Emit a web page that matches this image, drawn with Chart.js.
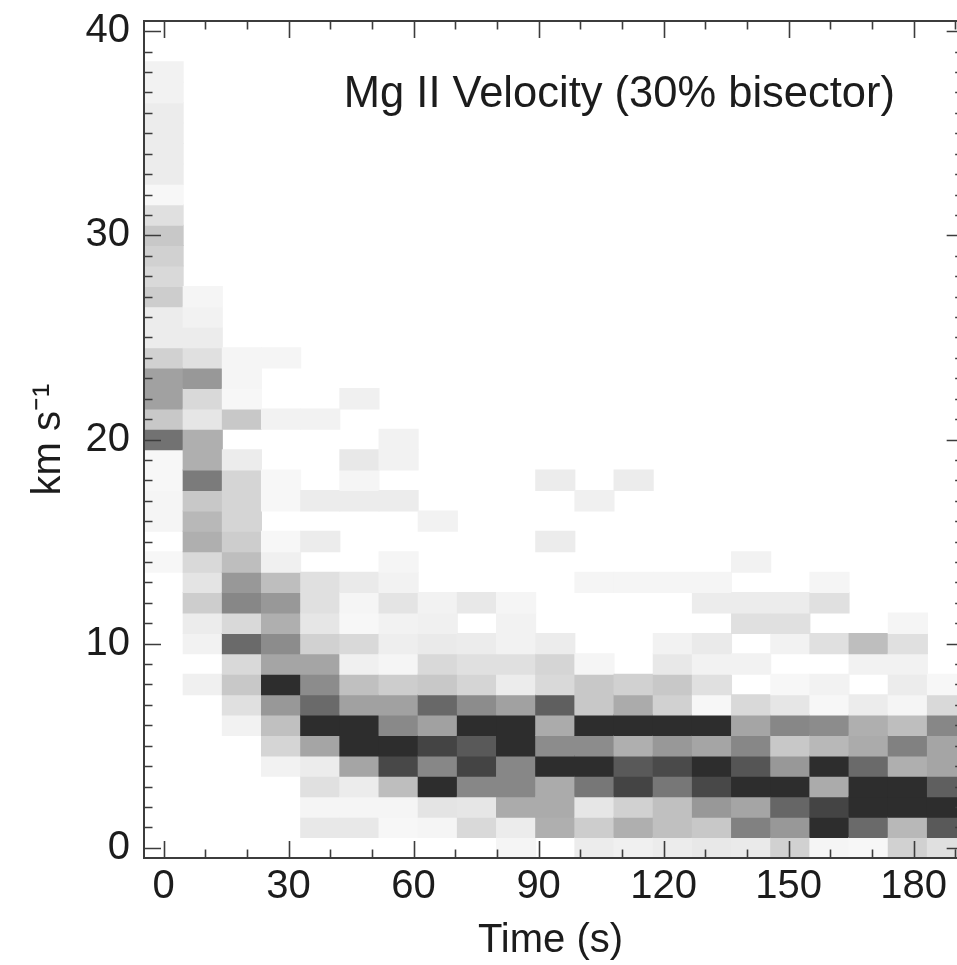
<!DOCTYPE html>
<html><head><meta charset="utf-8">
<script src="https://cdn.jsdelivr.net/npm/chart.js@4.4.1/dist/chart.umd.min.js"></script>
<style>html,body{margin:0;padding:0;background:#fff;overflow:hidden}#wrap{width:957px;height:965px}</style>
</head><body><div id="wrap"><canvas id="c" width="957" height="965"></canvas></div>
<script>
// Time bins (s) – centres of the 9.4 s cadence bins
const timeBins = [0, 9.4, 18.8, 28.2, 37.6, 47, 56.4, 65.8, 75.2, 84.6, 94, 103.4, 112.8, 122.2, 131.6, 141, 150.4, 159.8, 169.2, 178.6, 188];
// Velocity bins (km/s) – centres of 1 km/s bins
const velocityBins = [0,1,2,3,4,5,6,7,8,9,10,11,12,13,14,15,16,17,18,19,20,21,22,23,24,25,26,27,28,29,30,31,32,33,34,35,36,37,38,39,40];
const xTickLabels = [0, 30, 60, 90, 120, 150, 180];
const yTickLabels = [0, 10, 20, 30, 40];
const chartTitle = 'Mg II Velocity (30% bisector)';
const xTitle = 'Time (s)';
const yTitle = 'km s\u207B\u00B9';

// Relative occurrence (0-100) per time bin, listed for velocity 0..40
const density = [
 [0,0,0,0,0,0,0,0,0,0, 0,0,0,0,4,0,5,5,4,4, 67,26,45,45,22,9,9,24,18,22, 26,15,4,9,9,9,9,6,6,0, 0],
 [0,0,0,0,0,0,0,0,7,0, 6,9,24,13,18,38,34,26,63,38, 38,12,18,49,15,9,6,5,0,0, 0,0,0,0,0,0,0,0,0,0, 0],
 [0,0,0,0,0,0,6,15,26,18, 71,18,57,49,31,24,20,20,20,9, 0,26,4,5,5,0,0,0,0,0, 0,0,0,0,0,0,0,0,0,0, 0],
 [0,0,0,0,6,20,30,49,100,43, 55,38,49,31,7,4,0,4,4,0, 0,6,0,0,5,0,0,0,0,0, 0,0,0,0,0,0,0,0,0,0, 0],
 [0,11,5,15,9,43,100,71,55,43, 22,12,15,15,0,9,0,9,0,0, 0,6,0,0,0,0,0,0,0,0, 0,0,0,0,0,0,0,0,0,0, 0],
 [0,11,5,9,43,100,100,45,30,7, 18,4,5,10,0,0,0,9,5,11, 0,0,7,0,0,0,0,0,0,0, 0,0,0,0,0,0,0,0,0,0, 0],
 [0,4,5,31,87,100,56,45,24,5, 8,6,13,6,5,0,0,9,0,6, 6,0,0,0,0,0,0,0,0,0, 0,0,0,0,0,0,0,0,0,0, 0],
 [0,5,13,100,57,89,45,72,26,18, 10,7,6,0,0,0,6,0,0,0, 0,0,0,0,0,0,0,0,0,0, 0,0,0,0,0,0,0,0,0,0, 0],
 [0,18,12,57,89,79,100,55,20,15, 9,0,11,0,0,0,0,0,0,0, 0,0,0,0,0,0,0,0,0,0, 0,0,0,0,0,0,0,0,0,0, 0],
 [5,9,40,57,57,100,100,45,9,15, 6,6,5,0,0,0,0,0,0,0, 0,0,0,0,0,0,0,0,0,0, 0,0,0,0,0,0,0,0,0,0, 0],
 [0,38,40,40,100,55,40,76,18,20, 9,0,0,0,0,9,0,0,9,0, 0,0,0,0,0,0,0,0,0,0, 0,0,0,0,0,0,0,0,0,0, 0],
 [9,24,12,65,100,55,100,26,26,5, 0,0,0,5,0,0,0,7,0,0, 0,0,0,0,0,0,0,0,0,0, 0,0,0,0,0,0,0,0,0,0, 0],
 [7,38,22,89,79,38,100,40,22,0, 0,0,0,5,0,0,0,0,9,0, 0,0,0,0,0,0,0,0,0,0, 0,0,0,0,0,0,0,0,0,0, 0],
 [9,30,30,65,86,49,100,22,26,11, 6,0,0,5,0,0,0,0,0,0, 0,0,0,0,0,0,0,0,0,0, 0,0,0,0,0,0,0,0,0,0, 0],
 [11,26,49,87,100,43,100,4,15,6, 10,0,9,5,0,0,0,0,0,0, 0,0,0,0,0,0,0,0,0,0, 0,0,0,0,0,0,0,0,0,0, 0],
 [10,60,43,100,81,57,43,18,0,6, 0,15,9,0,6,0,0,0,0,0, 0,0,0,0,0,0,0,0,0,0, 0,0,0,0,0,0,0,0,0,0, 0],
 [22,49,73,100,49,26,57,12,4,0, 6,15,9,0,0,0,0,0,0,0, 0,0,0,0,0,0,0,0,0,0, 0,0,0,0,0,0,0,0,0,0, 0],
 [5,100,89,40,100,34,55,4,6,0, 15,0,15,5,0,0,0,0,0,0, 0,0,0,0,0,0,0,0,0,0, 0,0,0,0,0,0,0,0,0,0, 0],
 [4,71,100,100,71,40,38,9,0,6, 31,0,0,0,0,0,0,0,0,0, 0,0,0,0,0,0,0,0,0,0, 0,0,0,0,0,0,0,0,0,0, 0],
 [22,34,100,100,38,60,31,5,9,6, 15,5,0,0,0,0,0,0,0,0, 0,0,0,0,0,0,0,0,0,0, 0,0,0,0,0,0,0,0,0,0, 0],
 [15,79,100,76,43,43,57,18,4,0, 0,0,0,0,0,0,0,0,0,0, 0,0,0,0,0,0,0,0,0,0, 0,0,0,0,0,0,0,0,0,0, 0]
];

const FONT = '"Liberation Sans", Arial, Helvetica, sans-serif';
const INK = '#1c1c1c';
const AXIS = '#3c3c3c';
const xMinorStep = 10, xMajorStep = 30, yMinorStep = 1, yMajorStep = 10;
const xFrameEnd = 192; // right frame of the original plot lies just past the picture edge

function grayFor(d) {
  const g = Math.round(255 - d * 2.1);
  return 'rgb(' + g + ',' + g + ',' + g + ')';
}

const cells = [];
density.forEach((col, i) => {
  col.forEach((d, j) => {
    if (d > 0) cells.push({ x: timeBins[i], y: [velocityBins[j] - 0.5, velocityBins[j] + 0.5], d: d });
  });
});

const framePlugin = {
  id: 'frame',
  afterDatasetsDraw(chart) {
    const { ctx, chartArea: a, scales: { x, y } } = chart;
    const right = x.getPixelForValue(xFrameEnd);
    ctx.save();
    ctx.strokeStyle = AXIS;
    ctx.lineWidth = 2;
    ctx.strokeRect(a.left, a.top, right - a.left, a.bottom - a.top);
    ctx.lineWidth = 1.6;
    ctx.beginPath();
    for (let t = 0; t <= xFrameEnd; t += xMinorStep) {
      const px = Math.round(x.getPixelForValue(t)) + 0.5;
      const len = (t % xMajorStep === 0) ? 17 : 8.5;
      ctx.moveTo(px, a.bottom); ctx.lineTo(px, a.bottom - len);
      ctx.moveTo(px, a.top); ctx.lineTo(px, a.top + len);
    }
    for (let v = 0; v <= y.max; v += yMinorStep) {
      const py = Math.round(y.getPixelForValue(v)) + 0.5;
      const len = (v % yMajorStep === 0) ? 17 : 8.5;
      ctx.moveTo(a.left, py); ctx.lineTo(a.left + len, py);
      ctx.moveTo(right, py); ctx.lineTo(right - len, py);
    }
    ctx.stroke();
    ctx.fillStyle = INK;
    ctx.font = '43.5px ' + FONT;
    ctx.textAlign = 'right';
    ctx.textBaseline = 'alphabetic';
    ctx.fillText(chartTitle, a.right - 62, a.top + 86);
    ctx.restore();
  }
};

new Chart(document.getElementById('c'), {
  type: 'bar',
  data: {
    datasets: [{
      data: cells,
      backgroundColor: c => grayFor(c.raw ? c.raw.d : 0),
      borderWidth: 0,
      inflateAmount: 0.5,
      categoryPercentage: 1,
      barPercentage: 1,
      grouped: false
    }]
  },
  options: {
    responsive: false,
    animation: false,
    devicePixelRatio: 1,
    events: [],
    layout: { padding: { top: 21, right: 0, left: 0, bottom: 0 } },
    plugins: { legend: { display: false }, tooltip: { enabled: false }, title: { display: false } },
    scales: {
      x: {
        type: 'linear', min: -4.7, max: 190.4, offset: false,
        grid: { display: false, offset: false, drawTicks: false },
        border: { display: false },
        afterBuildTicks: s => { s.ticks = xTickLabels.map(v => ({ value: v })); },
        ticks: { padding: 5, color: INK, font: { family: FONT, size: 40 }, maxRotation: 0, autoSkip: false },
        title: { display: true, text: xTitle, color: INK, font: { family: FONT, size: 40 }, padding: { top: 0, bottom: 0 } },
        afterFit: s => { s.height = 107; s.paddingLeft = 0; s.paddingRight = 0; }
      },
      y: {
        type: 'linear', min: -0.5, max: 40.5,
        grid: { display: false, drawTicks: false },
        border: { display: false },
        afterBuildTicks: s => { s.ticks = yTickLabels.map(v => ({ value: v })); },
        ticks: { padding: 14, color: INK, font: { family: FONT, size: 40 }, autoSkip: false },
        title: { display: true, text: yTitle, color: INK, font: { family: FONT, size: 40 }, padding: { top: 25, bottom: 0 } },
        afterFit: s => { s.width = 144; s.paddingTop = 0; s.paddingBottom = 0; }
      }
    }
  },
  plugins: [framePlugin]
});
</script>
</body></html>
